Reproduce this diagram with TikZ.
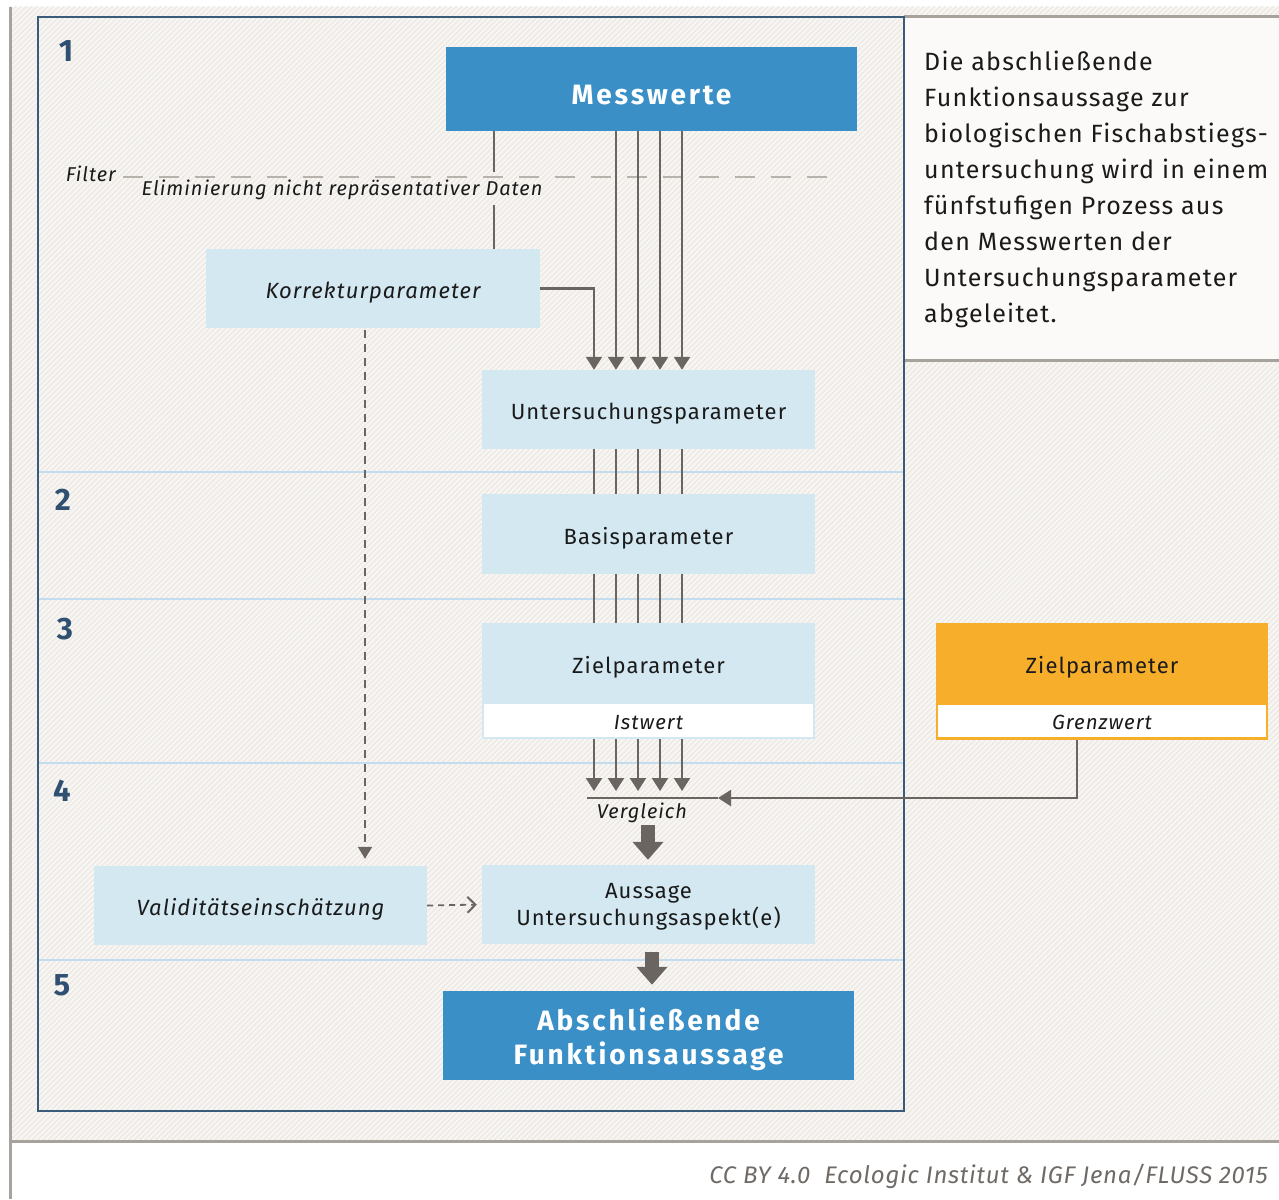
\documentclass[tikz,border=0pt]{standalone}
\usepackage{fontspec}
\setmainfont{Fira Sans}[LetterSpace=5]
\newfontfamily\credfont{Fira Sans}[LetterSpace=3]
\usetikzlibrary{arrows.meta,patterns.meta}

\definecolor{hatchbg}{HTML}{F8F6F3}
\definecolor{hatchln}{HTML}{ECE9E5}
\definecolor{boxblue}{HTML}{3A8FC7}
\definecolor{boxlight}{HTML}{D4E8F2}
\definecolor{boxorange}{HTML}{F6AE2B}
\definecolor{framec}{HTML}{3B5B7A}
\definecolor{numc}{HTML}{2F5070}
\definecolor{sepc}{HTML}{C4DDEE}
\definecolor{linec}{HTML}{6B6561}
\definecolor{rulec}{HTML}{A8A29D}
\definecolor{dashc}{HTML}{B8B2AD}
\definecolor{textc}{HTML}{1A1A1A}
\definecolor{credc}{HTML}{6F6A66}
\definecolor{notebg}{HTML}{FBFAF8}

\tikzset{
  lightbox/.style={fill=boxlight, minimum width=333pt, minimum height=79pt,
    inner sep=0pt, text=textc, text height=20pt, text depth=0pt,
    font=\fontsize{22}{26}\selectfont},
  itbox/.style={lightbox, font=\itshape\fontsize{22}{26}\selectfont},
  bluebox/.style={fill=boxblue, minimum width=411pt, inner sep=0pt,
    text=white, align=center,
    font=\bfseries\fontsize{28}{34}\selectfont\addfontfeature{LetterSpace=10}},
  valbox/.style={fill=white, minimum width=331pt, minimum height=35pt,
    inner sep=0pt, text=textc, text height=17pt, text depth=0pt,
    font=\itshape\fontsize{20.5}{24}\selectfont},
  stepnum/.style={text=numc, font=\bfseries\fontsize{31}{36}\selectfont},
  lbl/.style={text=textc, font=\itshape\fontsize{20}{24}\selectfont, inner sep=0pt},
  conn/.style={draw=linec, line width=2.4pt},
  arr/.style={conn, -{Triangle[width=16pt,length=13pt]}},
  dasharr/.style={draw=linec, line width=1.8pt, dash pattern=on 8pt off 6pt,
    -{Triangle[width=14pt,length=12pt]}},
  dasharrb/.style={draw=linec, line width=1.8pt, dash pattern=on 6pt off 5pt,
    -{Straight Barb[width=16pt,length=8pt,line width=2pt]}},
  blockarr/.style={draw=linec, line width=14pt,
    -{Triangle[width=30pt,length=18pt]}},
  sepline/.style={draw=sepc, line width=1.6pt},
}

\begin{document}
\begin{tikzpicture}[x=1pt,y=-1pt]
\useasboundingbox (0,0) rectangle (1279,1199);

% paper and hatched panel
\fill[white] (0,0) rectangle (1279,1199);
\fill[hatchbg] (10,7) rectangle (1279,1141);
\fill[pattern={Lines[angle=45,distance=3.8pt,line width=1.3pt]}, pattern color=hatchln]
  (10,7) rectangle (1279,1141);

% explanatory note panel
\fill[notebg] (904,17) rectangle (1279,360);
\draw[rulec, line width=3pt] (904,17) -- (1279,17);
\draw[rulec, line width=3pt] (904,360) -- (1279,360);

% outer rules
\draw[rulec, line width=3pt] (10,7) -- (10,1199);
\draw[rulec, line width=3pt] (10,1141) -- (1279,1141);

% stage separators
\foreach \yy in {472,599,763,960}
  \draw[sepline] (38,\yy) -- (904,\yy);

% stage frame
\draw[framec, line width=2.6pt] (38,17) rectangle (904,1111);

% stage numbers
\node[stepnum] (n1) at (66,51) {1};
\node[stepnum] (n2) at (63,500) {2};
\node[stepnum] (n3) at (65,629) {3};
\node[stepnum] (n4) at (62,791) {4};
\node[stepnum] (n5) at (62,985) {5};

% boxes
\node[bluebox, minimum height=84pt, text height=30pt, text depth=0pt] (mess) at (651.5,89) {Messwerte};
\node[itbox, minimum width=334pt] (korr) at (373,288.5) {Korrekturparameter};
\node[lightbox] (unters) at (648.5,409.5) {Untersuchungsparameter};
\node[lightbox, minimum height=80pt] (basis) at (648.5,534) {Basisparameter};
\node[lightbox, minimum height=80pt] (ziel) at (648.5,663) {Zielparameter};
\node[valbox, draw=boxlight, line width=2pt] (ist) at (648.5,720.5) {Istwert};
\node[lightbox, fill=boxorange, minimum width=332pt, minimum height=80pt] (zielg) at (1102,663) {Zielparameter};
\node[valbox, draw=boxorange, line width=2.6pt, minimum width=330pt] (grenz) at (1102,721) {Grenzwert};
\node[fill=boxlight, minimum width=333pt, minimum height=79pt, inner sep=0pt,
  text=textc, align=center, font=\fontsize{22}{27}\selectfont] (auss) at (648.5,904.5)
  {\rule{0pt}{20pt}Aussage\\Untersuchungsaspekt(e)};
\node[itbox] (valid) at (260.5,905.5) {Validitätseinschätzung};
\node[bluebox, minimum height=89pt] (absch) at (648.5,1035.5)
  {\rule{0pt}{30pt}Abschließende\\Funktionsaussage};

% filter
\draw[dashc, line width=1.6pt, dash pattern=on 20pt off 16pt] (123,177) -- (835,177);
\node[lbl, anchor=east] (filt) at (116,174) {Filter};
\node[lbl] (elim) at (342,190) {Eliminierung nicht repräsentativer Daten};
\coordinate (fa) at (494,172);
\coordinate (fb) at (494,205);
\draw[conn] (494,0 |- mess.south) -- (fa);
\draw[conn] (fb) -- (494,0 |- korr.north);

% measured values into the investigation parameters
\draw[arr] (korr.east) -| (594,0 |- unters.north);
\foreach \xx in {616,638,660,682}
  \draw[arr] (\xx,0 |- mess.south) -- (\xx,0 |- unters.north);

% parameter chain
\foreach \xx in {594,616,638,660,682} {
  \draw[conn] (\xx,0 |- unters.south) -- (\xx,0 |- basis.north);
  \draw[conn] (\xx,0 |- basis.south) -- (\xx,0 |- ziel.north);
}

% comparison
\coordinate (barl) at (587,798);
\coordinate (barr) at (718,798);
\node[lbl] (verg) at (642,813) {Vergleich};
\foreach \xx in {594,616,638,660,682}
  \draw[arr, shorten >=7pt] (\xx,0 |- ist.south) -- (\xx,0 |- barl);
\draw[conn] (barl) -- (barr);
\draw[arr] (1077,0 |- grenz.south) |- (barr);

\draw[blockarr, shorten <=2pt, shorten >=5pt] (648,0 |- verg.south) -- (648,0 |- auss.north);
\draw[blockarr, shorten <=8pt, shorten >=6pt] (652,0 |- auss.south) -- (652,0 |- absch.north);

% validity estimate
\draw[dasharr, shorten <=2pt, shorten >=7pt] (365,0 |- korr.south) -- (365,0 |- valid.north);
\draw[dasharrb, shorten >=5pt] (valid.east) -- (auss.west);

% note text
\node[anchor=north west, align=left, inner sep=0pt, text=textc,
  font=\fontsize{25}{35.9}\selectfont] (note) at (924,51)
  {Die abschließende\\Funktionsaussage zur\\biologischen Fischabstiegs-\\untersuchung wird in einem\\fünfstufigen Prozess aus\\den Messwerten der\\Untersuchungsparameter\\abgeleitet.};

% credit line
\node[anchor=base east, inner sep=0pt, text=credc,
  font=\credfont\itshape\fontsize{24}{28}\selectfont] (cred) at (1268,1183)
  {CC BY 4.0\ \ Ecologic Institut \& IGF Jena/FLUSS 2015};
\end{tikzpicture}
\end{document}
